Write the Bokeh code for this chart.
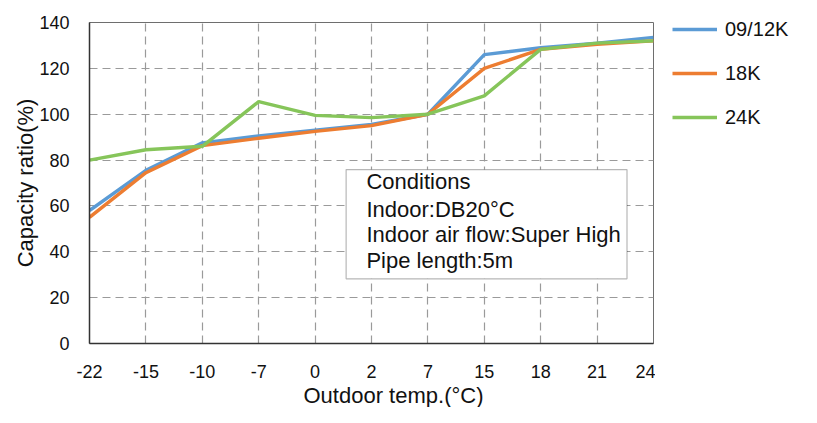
from bokeh.plotting import figure
from bokeh.layouts import row
from bokeh.models import (Range1d, FixedTicker, Legend, LegendItem, BoxAnnotation, Label, Title)
from bokeh.embed import file_html
from bokeh.resources import INLINE

temps = ["-22", "-15", "-10", "-7", "0", "2", "7", "15", "18", "21", "24"]
k09_12 = [58, 75.5, 87.5, 90.5, 93, 95.5, 100, 126, 129, 131, 133.5]
k18 = [55, 74.5, 86.3, 89.5, 92.5, 95, 100, 120, 128.3, 130.5, 132]
k24 = [80, 84.5, 86, 105.5, 99.5, 98.5, 100, 108, 128.3, 131, 132]
series_names = ["09/12K", "18K", "24K"]
colors = ["#5B9BD5", "#ED7D31", "#86C55A"]
y_ticks = [0, 20, 40, 60, 80, 100, 120, 140]
conditions = ["Conditions", "Indoor:DB20°C", "Indoor air flow:Super High", "Pipe length:5m"]

FONT = "Liberation Sans"
TXT = "#111111"
xs = list(range(len(temps)))
series = [k09_12, k18, k24]

p = figure(width=655, height=407, output_backend="svg", toolbar_location=None,
           x_range=Range1d(0, len(temps) - 1), y_range=Range1d(0, 140),
           min_border_left=89, min_border_right=2, min_border_top=22, min_border_bottom=62)

p.outline_line_color = "#6e6e6e"
p.outline_line_width = 1

# axes
p.xaxis.ticker = FixedTicker(ticks=xs)
p.xaxis.major_label_overrides = {i: t for i, t in enumerate(temps)}
p.yaxis.ticker = FixedTicker(ticks=y_ticks)
for ax in (p.xaxis[0], p.yaxis[0]):
    ax.major_tick_line_color = None
    ax.minor_tick_line_color = None
    ax.axis_line_color = "#333333"
    ax.axis_line_width = 1.5
    ax.major_label_text_font = FONT
    ax.major_label_text_font_size = "18px"
    ax.major_label_text_color = TXT
p.xaxis.major_label_standoff = 15
p.yaxis.major_label_standoff = 14
p.yaxis.axis_label = "Capacity ratio(%)"
p.yaxis.axis_label_text_font = FONT
p.yaxis.axis_label_text_font_size = "22px"
p.yaxis.axis_label_text_font_style = "normal"
p.yaxis.axis_label_text_color = TXT
p.yaxis.axis_label_standoff = -2

p.add_layout(Title(text="Outdoor temp.(°C)", align="left", offset=214, standoff=0,
                   text_font=FONT, text_font_size="22px", text_font_style="normal",
                   text_color=TXT), "below")

# grid
for g in (p.xgrid[0], p.ygrid[0]):
    g.grid_line_color = "#9a9a9a"
    g.grid_line_dash = "8 5"
    g.grid_line_width = 1.2

for name, ys, c in zip(series_names, series, colors):
    p.line(xs, ys, line_color=c, line_width=3.4)

# conditions box
box = BoxAnnotation(left=4.55, right=9.53, top=75.85, bottom=28.2,
                    fill_color="white", fill_alpha=1.0,
                    line_color="#111111", line_width=1.2)
p.add_layout(box)
label_y = [70.8, 58.6, 47.4, 36.1]
for t, yv in zip(conditions, label_y):
    p.add_layout(Label(x=4.91, y=yv, text=t, text_font=FONT, text_font_size="22px",
                       text_baseline="middle", text_color=TXT))

# legend panel to the right (its series lie outside this panel's visible range)
p2 = figure(width=146, height=407, output_backend="svg", toolbar_location=None,
            x_range=Range1d(1000, 1146), y_range=Range1d(0, 407),
            x_axis_type=None, y_axis_type=None,
            min_border_left=0, min_border_right=0, min_border_top=0, min_border_bottom=0)
p2.outline_line_color = None
p2.xgrid.visible = False
p2.ygrid.visible = False
items = []
for name, ys, c in zip(series_names, series, colors):
    r = p2.line(xs, ys, line_color=c, line_width=3.6)
    items.append(LegendItem(label=name, renderers=[r]))
legend = Legend(items=items, location=(17, 214), margin=0, padding=0, spacing=20,
                glyph_width=45, glyph_height=24, label_height=24,
                label_standoff=8, label_text_font=FONT, label_text_font_size="20px",
                label_text_color=TXT, border_line_color=None,
                background_fill_alpha=0)
p2.add_layout(legend)

layout = row(p, p2)
open("out.html", "w").write(file_html(layout, INLINE))
